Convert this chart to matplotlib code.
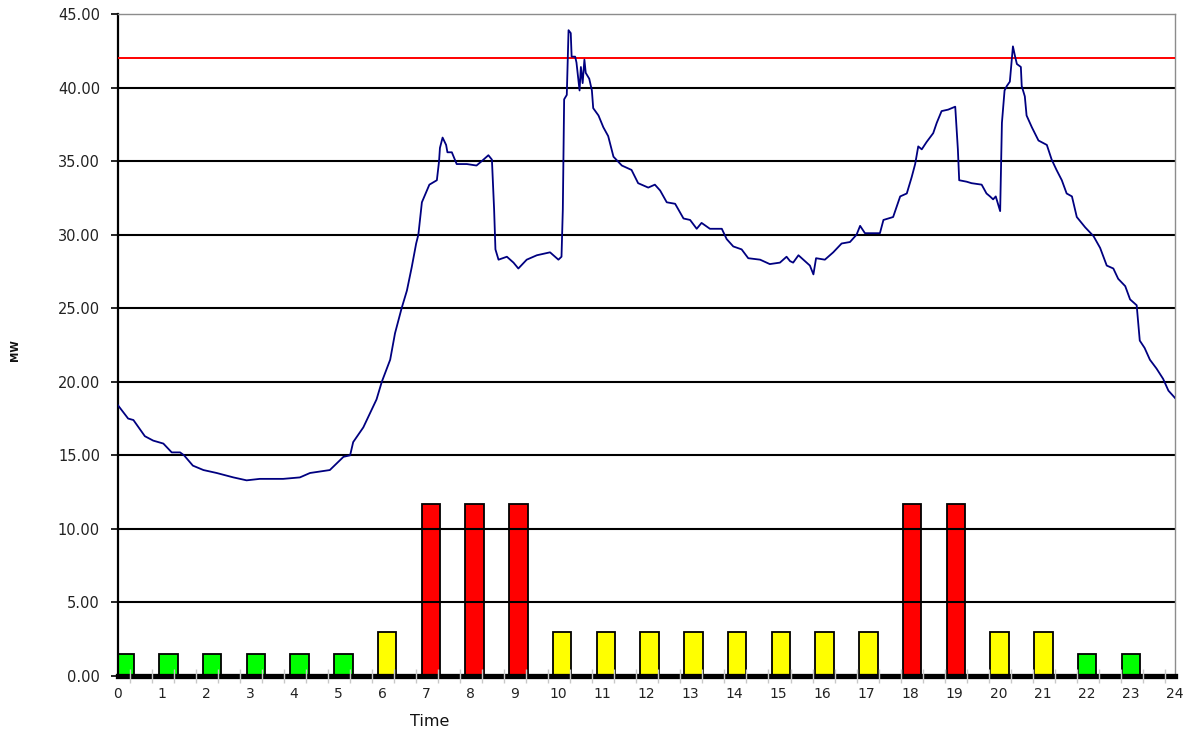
import matplotlib
matplotlib.use("Agg")
import matplotlib.pyplot as plt
from matplotlib.ticker import FixedLocator

# Samples of the daily load profile (hour of day, MW)
load_hours = [
    0.00, 0.23, 0.35, 0.61, 0.80, 1.03, 1.22, 1.41, 1.50, 1.70, 1.94, 2.24, 2.62, 2.92,
    3.22, 3.75, 4.13, 4.36, 4.81, 5.12, 5.27, 5.34, 5.57, 5.68, 5.87, 5.99, 6.18, 6.29,
    6.44, 6.56, 6.67, 6.77, 6.82, 6.90, 7.07, 7.24, 7.29, 7.31, 7.37, 7.45, 7.48, 7.58,
    7.69, 7.92, 8.14, 8.26, 8.41, 8.49, 8.51, 8.54, 8.57, 8.64, 8.83, 8.98, 9.09, 9.28,
    9.51, 9.81, 10.00, 10.07, 10.10, 10.13, 10.19, 10.23, 10.28, 10.30, 10.38, 10.41,
    10.48, 10.51, 10.55, 10.59, 10.62, 10.70, 10.76, 10.79, 10.91, 11.02, 11.13, 11.25,
    11.44, 11.66, 11.81, 12.04, 12.19, 12.31, 12.46, 12.65, 12.84, 12.99, 13.14, 13.25,
    13.44, 13.71, 13.82, 13.97, 14.16, 14.31, 14.58, 14.80, 15.03, 15.18, 15.26, 15.33,
    15.45, 15.60, 15.71, 15.79, 15.85, 16.05, 16.24, 16.43, 16.62, 16.77, 16.85, 16.96,
    17.30, 17.38, 17.60, 17.76, 17.91, 18.02, 18.10, 18.17, 18.25, 18.36, 18.51, 18.59,
    18.70, 18.85, 19.01, 19.04, 19.07, 19.10, 19.27, 19.38, 19.61, 19.72, 19.80, 19.87,
    19.93, 20.03, 20.07, 20.13, 20.18, 20.25, 20.32, 20.37, 20.41, 20.50, 20.52, 20.59,
    20.63, 20.75, 20.90, 21.09, 21.20, 21.31, 21.43, 21.54, 21.66, 21.77, 21.96, 22.15,
    22.30, 22.45, 22.60, 22.71, 22.87, 22.98, 23.13, 23.20, 23.31, 23.43, 23.58, 23.73,
    23.85, 24.00,
]
load_mw = [
    18.4, 17.5, 17.4, 16.3, 16.0, 15.8, 15.2, 15.2, 15.0, 14.3, 14.0, 13.8, 13.5, 13.3,
    13.4, 13.4, 13.5, 13.8, 14.0, 14.9, 15.0, 15.9, 16.9, 17.6, 18.8, 20.0, 21.5, 23.3,
    25.0, 26.2, 27.8, 29.4, 30.0, 32.2, 33.4, 33.7, 35.0, 35.9, 36.6, 36.1, 35.6, 35.6,
    34.8, 34.8, 34.7, 35.0, 35.4, 35.1, 33.7, 31.7, 29.0, 28.3, 28.5, 28.1, 27.7, 28.3,
    28.6, 28.8, 28.3, 28.5, 31.7, 39.2, 39.5, 43.9, 43.7, 42.1, 42.1, 41.7,
    39.8, 41.4, 40.3, 41.9, 41.0, 40.6, 39.8, 38.6, 38.1, 37.3, 36.7, 35.3,
    34.7, 34.4, 33.5, 33.2, 33.4, 33.0, 32.2, 32.1, 31.1, 31.0, 30.4, 30.8,
    30.4, 30.4, 29.7, 29.2, 29.0, 28.4, 28.3, 28.0, 28.1, 28.5, 28.2, 28.1,
    28.6, 28.2, 27.9, 27.3, 28.4, 28.3, 28.8, 29.4, 29.5, 30.0, 30.6, 30.1,
    30.1, 31.0, 31.2, 32.6, 32.8, 33.9, 34.8, 36.0, 35.8, 36.3, 36.9, 37.6,
    38.4, 38.5, 38.7, 37.3, 35.8, 33.7, 33.6, 33.5, 33.4, 32.8, 32.6, 32.4,
    32.6, 31.6, 37.6, 39.8, 40.1, 40.4, 42.8, 42.1, 41.6, 41.4, 40.1, 39.4,
    38.1, 37.3, 36.4, 36.1, 35.1, 34.4, 33.7, 32.8, 32.6, 31.2, 30.5, 29.9,
    29.1, 27.9, 27.7, 27.0, 26.5, 25.6, 25.2, 22.8, 22.3, 21.5, 20.9, 20.2,
    19.4, 18.9,
]

# Contracted capacity limit (MW)
capacity_limit = 42.0

# Tariff band of each hour 0..23 and the bar height that marks it
tariff_band = (["off"] * 6 + ["mid"] + ["peak"] * 3 + ["mid"] * 8 +
               ["peak"] * 2 + ["mid"] * 2 + ["off"] * 2)
band_level = {"off": 1.5, "mid": 3.0, "peak": 11.7}
band_color = {"off": "#00ff00", "mid": "#ffff00", "peak": "#ff0000"}

hour_labels = [str(h) for h in range(25)]
y_ticks = [0, 5, 10, 15, 20, 25, 30, 35, 40, 45]

W, H = 1193, 733
fig = plt.figure(figsize=(W / 100, H / 100), dpi=100)
fig.patch.set_facecolor("white")
x0, x1, y_top, y_bot = 118, 1175, 14, 676
ax = fig.add_axes([x0 / W, 1 - y_bot / H, (x1 - x0) / W, (y_bot - y_top) / H])
ax.set_xlim(0, 24)
ax.set_ylim(0, 45)

# Tariff bars sit on a category scale slightly narrower than the time scale
cat_offset, cat_step, bar_w = 0.148, 0.9934, 0.42
positions = [cat_offset + cat_step * i for i in range(len(tariff_band))]
heights = [band_level[b] for b in tariff_band]
colors = [band_color[b] for b in tariff_band]
ax.bar(positions, heights, width=bar_w, color=colors, edgecolor="black",
       linewidth=1.3, zorder=2)

# Horizontal gridlines drawn over the bars
for v in y_ticks[1:-1]:
    ax.axhline(v, color="black", linewidth=1.5, zorder=2.5)

ax.axhline(capacity_limit, color="#ff0000", linewidth=1.4, zorder=2.6)
ax.plot(load_hours, load_mw, color="#000080", linewidth=1.3, zorder=3)

# Frame
for side in ("top", "right"):
    ax.spines[side].set_color("#8c8c8c")
    ax.spines[side].set_linewidth(1.0)
ax.spines["left"].set_color("black")
ax.spines["left"].set_linewidth(1.6)
ax.spines["bottom"].set_color("black")
ax.spines["bottom"].set_linewidth(3.8)

# Y axis
ax.set_yticks(y_ticks)
ax.set_yticklabels([f"{v:.2f}" for v in y_ticks])
ax.tick_params(axis="y", direction="out", length=5, width=1.2, color="black",
               pad=8, labelsize=10.5, labelcolor="#222222")

# X axis: hour labels, with light tick marks across the heavy baseline
ax.set_xticks(range(25))
ax.set_xticklabels(hour_labels)
ax.tick_params(axis="x", which="major", length=0, pad=8, labelsize=10,
               labelcolor="#222222")
ax.xaxis.set_minor_locator(FixedLocator([0.27 + 0.5 * k for k in range(48)]))
ax.tick_params(axis="x", which="minor", direction="inout", length=10, width=1.0,
               color="#c8c8c8")
ax.xaxis.set_zorder(3.5)

ax.set_xlabel("Time", fontsize=11.5, color="#111111")
ax.xaxis.set_label_coords((430 - x0) / (x1 - x0), -(722 - y_bot) / (y_bot - y_top))
ax.xaxis.label.set_va("center")
ax.set_ylabel("MW", fontsize=7.5, fontweight="bold", color="#111111")
ax.yaxis.set_label_coords((15 - x0) / (x1 - x0), (y_bot - 350) / (y_bot - y_top))
ax.yaxis.label.set_va("center")

fig.savefig("out.png", dpi=100, facecolor="white")
